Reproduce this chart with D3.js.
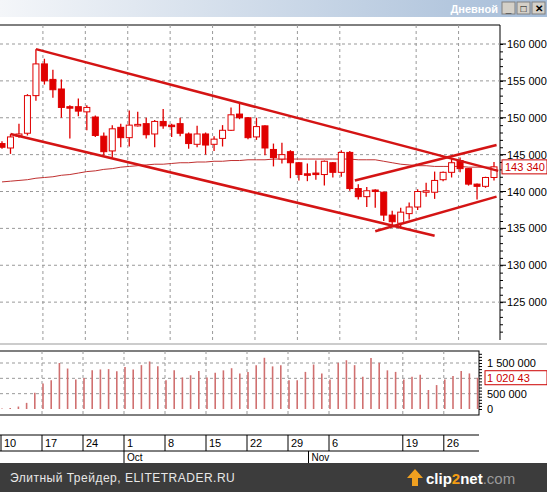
<!DOCTYPE html>
<html><head><meta charset="utf-8">
<script src="https://cdn.jsdelivr.net/npm/d3@7"></script>
<style>body{margin:0;background:#fff;font-family:Arial,"Liberation Sans",sans-serif}</style>
</head><body>
<svg width="547" height="492"></svg>
<script>
// OHLC in thousands, one per trading day (Sep 10 .. Nov 30)
let opens  = [146.5,145.9,147.5,147.9,153.0,157.3,155.2,153.9,151.5,151.5,150.8,150.1,147.5,145.5,148.7,147.3,149.0,149.2,147.8,149.5,
              149.0,149.2,147.8,146.4,147.8,146.4,147.2,148.3,150.5,150.0,147.4,148.9,145.7,144.4,145.4,143.9,142.4,142.5,142.3,143.9,
              142.6,145.3,140.4,139.3,140.2,139.9,136.8,135.7,137.0,137.9,140.0,139.9,141.6,142.6,144.2,143.1,141.0,140.7,141.9];
let highs  = [146.8,147.8,149.2,153.2,159.3,158.0,156.5,155.2,151.7,152.6,151.7,150.3,148.0,149.0,149.2,151.0,150.8,150.0,149.7,151.2,
              149.2,150.0,148.0,148.9,148.0,147.5,149.0,151.4,152.0,150.1,150.0,149.0,146.5,146.6,145.6,144.0,143.8,144.2,144.2,144.0,
              145.6,145.5,141.0,140.6,140.3,140.0,137.4,137.8,138.5,140.3,141.2,142.7,142.7,144.5,144.6,143.2,141.1,142.0,144.0];
let lows   = [145.8,145.1,147.3,147.6,152.3,154.5,152.7,150.0,147.2,150.2,148.3,147.4,144.9,144.6,146.0,146.1,148.8,147.2,146.0,148.5,
              147.4,147.5,145.8,146.0,145.0,145.5,146.1,148.2,149.8,147.1,147.0,144.9,143.4,143.8,141.8,141.5,141.4,141.6,140.8,141.9,
              142.0,140.1,138.9,137.9,137.8,136.0,135.2,135.0,136.2,137.5,139.3,139.0,141.4,141.9,142.6,140.8,138.9,140.5,141.5];
let closes = [146.0,147.4,147.8,153.0,157.3,155.0,153.8,151.4,151.4,150.9,151.4,147.6,145.4,148.5,147.3,149.0,149.1,147.7,149.5,148.9,
              148.9,147.9,146.5,147.8,146.3,147.1,148.3,150.4,150.0,147.3,148.8,145.9,144.6,145.0,143.9,142.3,142.3,142.4,144.1,142.6,
              145.3,140.4,139.3,140.1,140.0,136.8,135.9,137.2,137.9,140.0,140.1,141.5,142.6,143.9,143.1,141.0,140.7,141.9,143.34];
let movAvg = [141.3,141.4,141.5,141.6,141.8,141.9,142.0,142.2,142.3,142.5,142.7,142.8,143.0,143.1,143.3,143.4,143.5,143.6,143.7,143.7,
              143.8,143.9,143.9,144.0,144.0,144.1,144.1,144.2,144.2,144.3,144.3,144.3,144.4,144.4,144.4,144.4,144.4,144.4,144.4,144.4,
              144.4,144.4,144.3,144.3,144.3,144.1,143.9,143.7,143.6,143.5,143.5,143.4,143.4,143.4,143.4,143.3,143.3,143.3,143.3];
// volume in millions
let volumes = [0.02,0.03,0.08,0.2,0.53,0.83,0.94,1.5,1.32,0.96,1.01,1.26,1.29,1.30,1.23,1.37,1.29,1.43,1.55,1.39,
               0.94,1.26,1.03,1.10,1.24,1.03,1.18,1.26,1.33,1.16,1.21,1.43,1.67,1.39,1.43,0.94,0.94,1.21,1.45,1.16,
               0.96,1.51,1.59,1.43,1.05,1.66,1.51,1.26,1.21,0.96,1.05,1.12,0.62,0.78,0.96,1.08,1.24,1.16,1.02];
// trend lines: [index, price] pairs
let trendLines = [[[4,159.3],[58.5,142.8]], [[1,147.8],[51,134.0]], [[44,134.6],[58.3,139.3]], [[41.6,141.5],[58.3,146.3]]];
let priceTicks = [125,130,135,140,145,150,155,160];
let priceLabels = ["125 000","130 000","135 000","140 000","145 000","150 000","155 000","160 000"];
let volTicks = [0,0.5,1.5];
let volLabels = ["0","500 000","1 500 000"];
let dayTickIdx = [0,5,10,15,20,25,30,35,40,49,54];
let dayTickLabels = ["10","17","24","1","8","15","22","29","6","19","26"];
let monthIdx = [15,37.5];
let monthLabels = ["Oct","Nov"];

let svg = d3.select('svg');
let red = '#e00000';

// title bar
let grad = svg.append('defs').append('linearGradient').attr('id','tb');
grad.append('stop').attr('offset','0').attr('stop-color','#f4f6f9');
grad.append('stop').attr('offset','1').attr('stop-color','#a6bdd8');
svg.append('rect').attr('x',0).attr('y',0).attr('width',547).attr('height',17).attr('fill','url(#tb)');
svg.append('text').attr('x',498).attr('y',13).attr('text-anchor','end').attr('fill','#fff')
  .attr('font-weight','bold').attr('font-size',11).text('Дневной');
['_','□','✕'].forEach(function(s, k) {
  let bx = 502 + k*15;
  svg.append('rect').attr('x',bx).attr('y',2).attr('width',13).attr('height',12).attr('fill','#d4d0c8').attr('stroke','#808080');
  svg.append('text').attr('x',bx+6.5).attr('y',12).attr('text-anchor','middle').attr('font-size',10).attr('font-weight','bold').text(s);
});

// scales
let x = d3.scaleLinear().domain([0,58]).range([2,494]);
let y = d3.scaleLinear().domain([120,160]).range([339,44]);
let xv = d3.scaleLinear().domain([0,58]).range([1,476.6]);
let yv = d3.scaleLinear().domain([0,1.5]).range([409,363]);

// price panel
svg.append('line').attr('x1',0).attr('x2',500).attr('y1',25).attr('y2',25).attr('stroke','#000');
svg.append('line').attr('x1',500).attr('x2',500).attr('y1',25).attr('y2',340).attr('stroke','#000');
svg.selectAll('.hg').data(priceTicks).enter().append('line')
  .attr('x1',0).attr('x2',500).attr('y1',function(d){return y(d);}).attr('y2',function(d){return y(d);})
  .attr('stroke','#999').attr('stroke-dasharray','3,3');
svg.selectAll('.vg').data(dayTickIdx.slice(1)).enter().append('line')
  .attr('x1',function(d){return x(d)-1.5;}).attr('x2',function(d){return x(d)-1.5;})
  .attr('y1',25).attr('y2',340).attr('stroke','#999').attr('stroke-dasharray','3,3');
let pAxis = d3.axisRight(y).tickValues(d3.range(121,160.1,1)).tickSize(3).tickFormat('');
svg.append('g').attr('transform','translate(500,0)').call(pAxis).call(function(g){g.select('.domain').remove(); g.selectAll('line').attr('stroke','#000');});
svg.selectAll('.pl').data(priceTicks).enter().append('g').each(function(d,k) {
  let g = d3.select(this);
  g.append('line').attr('x1',500).attr('x2',506).attr('y1',y(d)).attr('y2',y(d)).attr('stroke','#000');
  g.append('text').attr('x',507).attr('y',y(d)+4).attr('font-size',11).attr('fill','#000').text(priceLabels[k]);
});

// moving average
svg.append('path').datum(movAvg)
  .attr('d', d3.line().x(function(d,i){return x(i);}).y(function(d){return y(d);}))
  .attr('fill','none').attr('stroke','#c03030').attr('stroke-width',1);

// candles
let idx = d3.range(closes.length);
svg.selectAll('.wick').data(idx).enter().append('line')
  .attr('x1',function(i){return x(i);}).attr('x2',function(i){return x(i);})
  .attr('y1',function(i){return y(highs[i]);}).attr('y2',function(i){return y(lows[i]);})
  .attr('stroke',red).attr('stroke-width',1.3);
svg.selectAll('.body').data(idx).enter().append('rect')
  .attr('x',function(i){return x(i)-3;}).attr('width',6)
  .attr('y',function(i){return y(Math.max(opens[i],closes[i]));})
  .attr('height',function(i){return Math.max(1.5, Math.abs(y(opens[i])-y(closes[i])));})
  .attr('fill',function(i){ if (closes[i] < opens[i]) { return red; } else { return '#fff'; } })
  .attr('stroke',red).attr('stroke-width',1);

// trend lines
svg.selectAll('.tl').data(trendLines).enter().append('line')
  .attr('x1',function(d){return x(d[0][0]);}).attr('y1',function(d){return y(d[0][1]);})
  .attr('x2',function(d){return x(d[1][0]);}).attr('y2',function(d){return y(d[1][1]);})
  .attr('stroke','#d41414').attr('stroke-width',2.5);

// last price box
let lp = closes[closes.length-1];
svg.append('rect').attr('x',502).attr('y',y(lp)-7).attr('width',45).attr('height',14).attr('fill','#fff').attr('stroke','#c00');
svg.append('text').attr('x',505).attr('y',y(lp)+4).attr('font-size',11).attr('fill','#c00').text('143 340');

// volume panel
svg.append('line').attr('x1',0).attr('x2',547).attr('y1',344).attr('y2',344).attr('stroke','#999');
svg.append('rect').attr('x',-1).attr('y',351).attr('width',480).attr('height',64).attr('fill','none').attr('stroke','#000');
svg.selectAll('.vh').data([0.5,1.0,1.5]).enter().append('line')
  .attr('x1',0).attr('x2',479).attr('y1',function(d){return yv(d);}).attr('y2',function(d){return yv(d);})
  .attr('stroke','#999').attr('stroke-dasharray','3,3');
svg.selectAll('.vv').data(dayTickIdx.slice(1)).enter().append('line')
  .attr('x1',function(d){return xv(d);}).attr('x2',function(d){return xv(d);})
  .attr('y1',351).attr('y2',415).attr('stroke','#999').attr('stroke-dasharray','3,3');
svg.selectAll('.vol').data(volumes).enter().append('line')
  .attr('x1',function(d,i){return xv(i)+1;}).attr('x2',function(d,i){return xv(i)+1;})
  .attr('y1',yv(0)).attr('y2',function(d){return yv(d);})
  .attr('stroke','#d07070').attr('stroke-width',1.6);
let vAxis = d3.axisRight(yv).tickValues(d3.range(0,1.81,0.1)).tickSize(3).tickFormat('');
svg.append('g').attr('transform','translate(479,0)').call(vAxis).call(function(g){g.select('.domain').remove(); g.selectAll('line').attr('stroke','#000');});
svg.selectAll('.vlab').data(volTicks).enter().append('text')
  .attr('x',487).attr('y',function(d){return yv(d)+4;}).attr('font-size',11).text(function(d,k){return volLabels[k];});
let lv = volumes[volumes.length-1];
svg.append('rect').attr('x',485).attr('y',yv(lv)-7).attr('width',62).attr('height',14).attr('fill','#fff').attr('stroke','#c00');
svg.append('text').attr('x',487).attr('y',yv(lv)+4).attr('font-size',11).attr('fill','#c00').text('1 020 43');

// date axis
svg.append('line').attr('x1',0).attr('x2',479).attr('y1',435).attr('y2',435).attr('stroke','#000');
svg.append('line').attr('x1',0).attr('x2',479).attr('y1',451).attr('y2',451).attr('stroke','#000');
svg.selectAll('.dt').data(dayTickIdx).enter().append('g').each(function(d,k) {
  let g = d3.select(this), px = Math.max(1, xv(d));
  g.append('line').attr('x1',px).attr('x2',px).attr('y1',435).attr('y2',451).attr('stroke','#000');
  g.append('text').attr('x',px+3).attr('y',447).attr('font-size',11).text(dayTickLabels[k]);
});
svg.selectAll('.mt').data(monthIdx).enter().append('g').each(function(d,k) {
  let g = d3.select(this), px = xv(d);
  g.append('line').attr('x1',px).attr('x2',px).attr('y1',451).attr('y2',463).attr('stroke','#000');
  g.append('text').attr('x',px+3).attr('y',461).attr('font-size',10).text(monthLabels[k]);
});

// footer
svg.append('rect').attr('x',0).attr('y',463).attr('width',547).attr('height',29).attr('fill','#3c3c3c');
svg.append('text').attr('x',10).attr('y',482).attr('fill','#e8e8e8').attr('font-size',12).attr('letter-spacing',0.5)
  .text('Элитный Трейдер, ELITETRADER.RU');
svg.append('path').attr('d','M412,486 L412,478 L407,478 L415,469 L423,478 L418,478 L418,486 Z').attr('fill','#f0a020');
let lg = svg.append('text').attr('x',426).attr('y',484).attr('font-size',15).attr('font-weight','bold');
lg.append('tspan').attr('fill','#fff').text('clip');
lg.append('tspan').attr('fill','#f39c12').text('2');
lg.append('tspan').attr('fill','#fff').text('net');
lg.append('tspan').attr('fill','#9a9a9a').attr('font-weight','normal').text('.com');
</script>
</body></html>
